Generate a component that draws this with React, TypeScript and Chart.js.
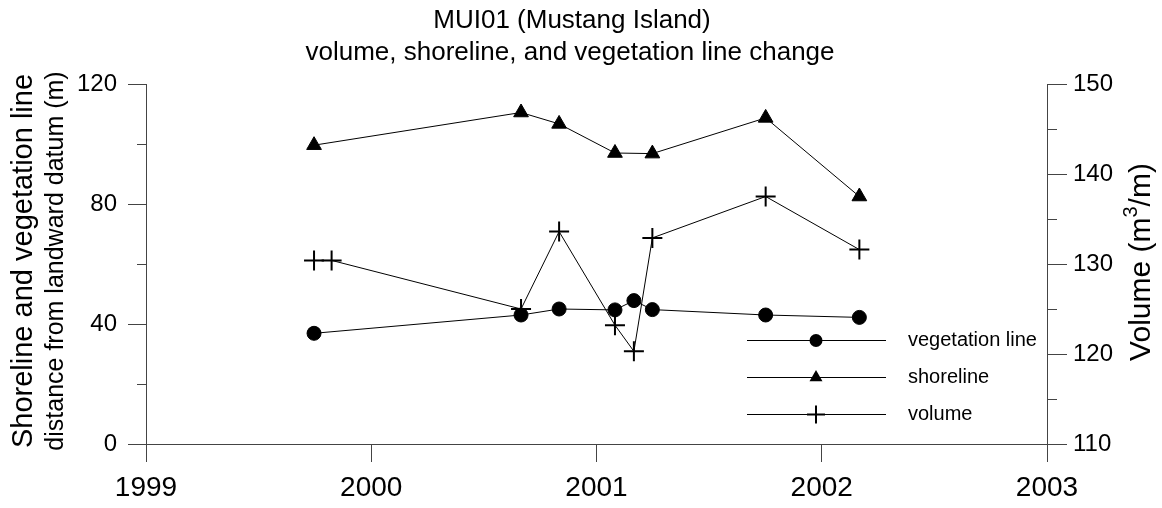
import React, { useEffect, useRef } from 'react';
import { Chart, registerables } from 'chart.js';

Chart.register(...registerables);

const FONT = '"Liberation Sans", Arial, Helvetica, sans-serif';
const AXIS_COLOR = '#444';

const titleLines = ['MUI01 (Mustang Island)', 'volume, shoreline, and vegetation line change'];
const leftTitleMain = 'Shoreline and vegetation line';
const leftTitleSub = 'distance from landward datum (m)';
const rightTitleParts = ['Volume (m', '3', '/m)'];

const xTicks = [1999, 2000, 2001, 2002, 2003];
const leftTicks = [0, 40, 80, 120];
const leftMinorTicks = [20, 60, 100];
const rightTicks = [110, 120, 130, 140, 150];
const rightMinorTicks = [115, 125, 135, 145];

const vegetationDates = [1999.746, 2000.665, 2000.834, 2001.082, 2001.166, 2001.248, 2001.751, 2002.167];
const vegetationValues = [36.9, 43.0, 45.0, 44.7, 47.8, 44.8, 43.0, 42.2];

const shorelineDates = [1999.746, 2000.665, 2000.834, 2001.082, 2001.248, 2001.751, 2002.167];
const shorelineValues = [99.6, 110.5, 106.7, 97.0, 96.8, 108.7, 82.5];

const volumeDates = [1999.746, 1999.824, 2000.665, 2000.834, 2001.082, 2001.166, 2001.248, 2001.751, 2002.167];
const volumeValues = [130.4, 130.4, 125.0, 133.6, 123.2, 120.3, 132.9, 137.5, 131.6];

const legendLabels = ['vegetation line', 'shoreline', 'volume'];

const toPoints = (xs: number[], ys: number[]) => xs.map((x, i) => ({ x, y: ys[i] }));

function drawMarker(ctx: CanvasRenderingContext2D, kind: string, x: number, y: number) {
  ctx.save();
  ctx.fillStyle = '#000';
  ctx.strokeStyle = '#000';
  if (kind === 'circle') {
    ctx.beginPath();
    ctx.arc(x, y, 6.5, 0, Math.PI * 2);
    ctx.fill();
  } else if (kind === 'triangle') {
    const r = 7.5;
    ctx.beginPath();
    for (let k = 0; k < 3; k++) {
      const a = (k * 2 * Math.PI) / 3;
      const px = x + Math.sin(a) * r;
      const py = y - Math.cos(a) * r;
      if (k === 0) ctx.moveTo(px, py);
      else ctx.lineTo(px, py);
    }
    ctx.closePath();
    ctx.fill();
  } else {
    const r = 9;
    ctx.lineWidth = 2;
    ctx.beginPath();
    ctx.moveTo(x - r, y);
    ctx.lineTo(x + r, y);
    ctx.moveTo(x, y - r);
    ctx.lineTo(x, y + r);
    ctx.stroke();
  }
  ctx.restore();
}

const decorPlugin = {
  id: 'decor',
  afterDraw(chart: any) {
    const ctx: CanvasRenderingContext2D = chart.ctx;
    const yl = chart.scales.y;
    const yr = chart.scales.y1;
    ctx.save();
    // minor ticks
    ctx.strokeStyle = AXIS_COLOR;
    ctx.lineWidth = 1;
    ctx.beginPath();
    leftMinorTicks.forEach((v) => {
      const py = Math.round(yl.getPixelForValue(v)) + 0.5;
      ctx.moveTo(yl.right + 0.5, py);
      ctx.lineTo(yl.right - 9, py);
    });
    rightMinorTicks.forEach((v) => {
      const py = Math.round(yr.getPixelForValue(v)) + 0.5;
      ctx.moveTo(yr.left + 0.5, py);
      ctx.lineTo(yr.left + 10, py);
    });
    ctx.stroke();

    // title
    ctx.fillStyle = '#000';
    ctx.textAlign = 'center';
    ctx.textBaseline = 'alphabetic';
    ctx.font = `26px ${FONT}`;
    ctx.fillText(titleLines[0], 572, 28);
    ctx.fillText(titleLines[1], 570, 60);

    // left axis titles
    ctx.save();
    ctx.translate(32, 261);
    ctx.rotate(-Math.PI / 2);
    ctx.font = `29px ${FONT}`;
    ctx.fillText(leftTitleMain, 0, 0);
    ctx.restore();
    ctx.save();
    ctx.translate(63, 261);
    ctx.rotate(-Math.PI / 2);
    ctx.font = `25px ${FONT}`;
    ctx.fillText(leftTitleSub, 0, 0);
    ctx.restore();

    // right axis title with superscript
    ctx.save();
    ctx.translate(1150, 262);
    ctx.rotate(-Math.PI / 2);
    ctx.textAlign = 'left';
    const mainFont = `30px ${FONT}`;
    const supFont = `20px ${FONT}`;
    ctx.font = mainFont;
    const w1 = ctx.measureText(rightTitleParts[0]).width;
    const w3 = ctx.measureText(rightTitleParts[2]).width;
    ctx.font = supFont;
    const w2 = ctx.measureText(rightTitleParts[1]).width;
    let sx = -(w1 + w2 + w3) / 2;
    ctx.font = mainFont;
    ctx.fillText(rightTitleParts[0], sx, 0);
    sx += w1;
    ctx.font = supFont;
    ctx.fillText(rightTitleParts[1], sx, -13);
    sx += w2;
    ctx.font = mainFont;
    ctx.fillText(rightTitleParts[2], sx, 0);
    ctx.restore();

    // legend
    const kinds = ['circle', 'triangle', 'cross'];
    const rows = [340, 377, 414];
    ctx.font = `20px ${FONT}`;
    ctx.textAlign = 'left';
    ctx.textBaseline = 'middle';
    legendLabels.forEach((label, i) => {
      const y = rows[i] + 0.5;
      ctx.strokeStyle = '#000';
      ctx.lineWidth = 1;
      ctx.beginPath();
      ctx.moveTo(747, y);
      ctx.lineTo(886, y);
      ctx.stroke();
      drawMarker(ctx, kinds[i], 816, y);
      ctx.fillStyle = '#000';
      ctx.fillText(label, 908, rows[i]);
    });
    ctx.restore();
  },
};

export default function App() {
  const canvasRef = useRef<HTMLCanvasElement | null>(null);

  useEffect(() => {
    document.body.style.margin = '0';
    const canvas = canvasRef.current;
    if (!canvas) return;
    const tickFont = (size: number) => ({ family: FONT, size });
    const chart = new Chart(canvas, {
      type: 'line',
      data: {
        datasets: [
          {
            label: legendLabels[0],
            data: toPoints(vegetationDates, vegetationValues),
            yAxisID: 'y',
            borderColor: '#000',
            borderWidth: 1,
            pointStyle: 'circle',
            pointRadius: 7,
            pointBorderWidth: 1,
            pointBackgroundColor: '#000',
            pointBorderColor: '#000',
            fill: false,
            tension: 0,
          },
          {
            label: legendLabels[1],
            data: toPoints(shorelineDates, shorelineValues),
            yAxisID: 'y',
            borderColor: '#000',
            borderWidth: 1,
            pointStyle: 'triangle',
            pointRadius: 8.5,
            pointBorderWidth: 1,
            pointBackgroundColor: '#000',
            pointBorderColor: '#000',
            fill: false,
            tension: 0,
          },
          {
            label: legendLabels[2],
            data: toPoints(volumeDates, volumeValues),
            yAxisID: 'y1',
            borderColor: '#000',
            borderWidth: 1,
            pointStyle: 'cross',
            pointRadius: 10,
            pointBorderWidth: 2,
            pointBackgroundColor: '#000',
            pointBorderColor: '#000',
            fill: false,
            tension: 0,
          },
        ],
      },
      options: {
        animation: false,
        responsive: false,
        devicePixelRatio: 1,
        layout: { padding: { top: 84, left: 0, right: 0, bottom: 0 } },
        plugins: {
          legend: { display: false },
          title: { display: false },
          tooltip: { enabled: false },
        },
        elements: { line: { borderCapStyle: 'butt' } },
        scales: {
          x: {
            type: 'linear',
            min: 1999,
            max: 2003,
            afterBuildTicks: (s: any) => {
              s.ticks = xTicks.map((v) => ({ value: v }));
            },
            afterFit: (s: any) => {
              s.height = 64;
            },
            ticks: {
              color: '#000',
              font: tickFont(28),
              padding: 9,
              maxRotation: 0,
              autoSkip: false,
              callback: (v: any) => String(v),
            },
            grid: {
              display: true,
              drawOnChartArea: false,
              drawTicks: true,
              tickLength: 18,
              color: AXIS_COLOR,
              tickColor: AXIS_COLOR,
            },
            border: { display: true, color: AXIS_COLOR, width: 1 },
          },
          y: {
            type: 'linear',
            position: 'left',
            min: 0,
            max: 120,
            afterBuildTicks: (s: any) => {
              s.ticks = leftTicks.map((v) => ({ value: v }));
            },
            afterFit: (s: any) => {
              s.width = 146;
            },
            ticks: {
              color: '#000',
              font: tickFont(24),
              padding: 11,
              callback: (v: any) => String(v),
            },
            grid: {
              display: true,
              drawOnChartArea: false,
              drawTicks: true,
              tickLength: 18,
              color: AXIS_COLOR,
              tickColor: AXIS_COLOR,
            },
            border: { display: true, color: AXIS_COLOR, width: 1 },
          },
          y1: {
            type: 'linear',
            position: 'right',
            min: 110,
            max: 150,
            afterBuildTicks: (s: any) => {
              s.ticks = rightTicks.map((v) => ({ value: v }));
            },
            afterFit: (s: any) => {
              s.width = 115;
            },
            ticks: {
              color: '#000',
              font: tickFont(24),
              padding: 6,
              callback: (v: any) => String(v),
            },
            grid: {
              display: true,
              drawOnChartArea: false,
              drawTicks: true,
              tickLength: 20,
              color: AXIS_COLOR,
              tickColor: AXIS_COLOR,
            },
            border: { display: true, color: AXIS_COLOR, width: 1 },
          },
        },
      } as any,
      plugins: [decorPlugin],
    });
    return () => {
      chart.destroy();
    };
  }, []);

  return (
    <div style={{ width: 1162, height: 508, background: '#fff' }}>
      <canvas ref={canvasRef} width={1162} height={508} style={{ display: 'block' }} />
    </div>
  );
}
